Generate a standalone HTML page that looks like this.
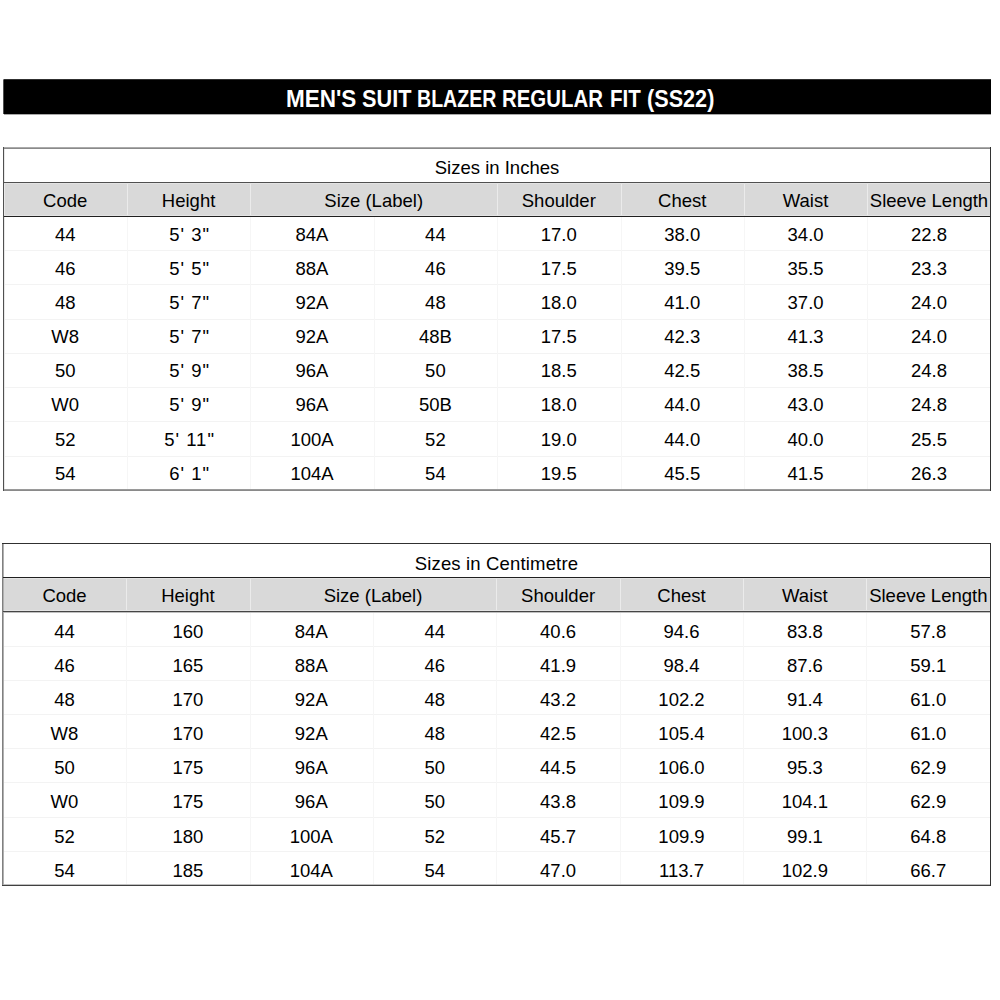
<!DOCTYPE html>
<html><head><meta charset="utf-8"><style>
html,body{margin:0;padding:0;background:#fff;width:1000px;height:1000px;overflow:hidden}
body>div{position:absolute}
.t{font-family:"Liberation Sans",sans-serif;font-size:18.5px;line-height:18px;height:18px;text-align:center;color:#000;white-space:nowrap}
.title{top:82px;transform-origin:0 0;height:35px;line-height:35px;color:#fff;font-family:"Liberation Sans",sans-serif;font-weight:bold;font-size:23.5px;white-space:nowrap}
</style></head><body>
<div style="left:3px;top:183px;width:987px;height:33px;background:#d9d9d9"></div>
<div style="left:127px;top:183px;width:1px;height:33px;background:#ebebeb"></div>
<div style="left:250px;top:183px;width:1px;height:33px;background:#ebebeb"></div>
<div style="left:497px;top:183px;width:1px;height:33px;background:#ebebeb"></div>
<div style="left:621px;top:183px;width:1px;height:33px;background:#ebebeb"></div>
<div style="left:744px;top:183px;width:1px;height:33px;background:#ebebeb"></div>
<div style="left:867px;top:183px;width:1px;height:33px;background:#ebebeb"></div>
<div style="left:3px;top:250px;width:987px;height:1px;background:#f3f3f3"></div>
<div style="left:3px;top:284px;width:987px;height:1px;background:#f3f3f3"></div>
<div style="left:3px;top:319px;width:987px;height:1px;background:#f3f3f3"></div>
<div style="left:3px;top:353px;width:987px;height:1px;background:#f3f3f3"></div>
<div style="left:3px;top:387px;width:987px;height:1px;background:#f3f3f3"></div>
<div style="left:3px;top:421px;width:987px;height:1px;background:#f3f3f3"></div>
<div style="left:3px;top:456px;width:987px;height:1px;background:#f3f3f3"></div>
<div style="left:127px;top:217px;width:1px;height:273px;background:#f6f6f6"></div>
<div style="left:250px;top:217px;width:1px;height:273px;background:#f6f6f6"></div>
<div style="left:374px;top:217px;width:1px;height:273px;background:#f6f6f6"></div>
<div style="left:497px;top:217px;width:1px;height:273px;background:#f6f6f6"></div>
<div style="left:621px;top:217px;width:1px;height:273px;background:#f6f6f6"></div>
<div style="left:744px;top:217px;width:1px;height:273px;background:#f6f6f6"></div>
<div style="left:867px;top:217px;width:1px;height:273px;background:#f6f6f6"></div>
<div style="left:4px;top:147px;width:1px;height:344px;background:#e8e8e8"></div>
<div style="left:4px;top:215px;width:986px;height:1px;background:#e4e4e4"></div>
<div style="left:4px;top:183px;width:986px;height:1px;background:#e3e3e3"></div>
<div style="left:3px;top:147px;width:988px;height:1px;background:#aaaaaa"></div>
<div style="left:3px;top:489px;width:988px;height:1px;background:#9a9a9a"></div>
<div style="left:3px;top:148px;width:988px;height:1px;background:#8a8a8a"></div>
<div style="left:3px;top:490px;width:988px;height:1px;background:#8a8a8a"></div>
<div style="left:3px;top:147px;width:1px;height:344px;background:#505050"></div>
<div style="left:4px;top:182px;width:986px;height:1px;background:#505050"></div>
<div style="left:990px;top:147px;width:1px;height:344px;background:#333333"></div>
<div style="left:4px;top:216px;width:986px;height:1px;background:#202020"></div>
<div class="t" style="left:3.50px;top:158.96px;width:987.00px;">Sizes in Inches</div>
<div class="t" style="left:3.50px;top:191.56px;width:123.40px;">Code</div>
<div class="t" style="left:126.90px;top:191.56px;width:123.40px;">Height</div>
<div class="t" style="left:497.10px;top:191.56px;width:123.40px;">Shoulder</div>
<div class="t" style="left:620.50px;top:191.56px;width:123.40px;">Chest</div>
<div class="t" style="left:743.90px;top:191.56px;width:123.40px;">Waist</div>
<div class="t" style="left:867.30px;top:191.56px;width:123.40px;">Sleeve Length</div>
<div class="t" style="left:250.30px;top:191.56px;width:246.80px;">Size (Label)</div>
<div class="t" style="left:3.50px;top:225.76px;width:123.40px;font-size:18.5px;">44</div>
<div class="t" style="left:126.90px;top:225.76px;width:123.40px;letter-spacing:1px;padding-left:1px;font-size:18.5px;">5&#39; 3&quot;</div>
<div class="t" style="left:250.30px;top:225.76px;width:123.40px;font-size:18.5px;">84A</div>
<div class="t" style="left:373.70px;top:225.76px;width:123.40px;font-size:18.5px;">44</div>
<div class="t" style="left:497.10px;top:225.76px;width:123.40px;font-size:18.5px;">17.0</div>
<div class="t" style="left:620.50px;top:225.76px;width:123.40px;font-size:18.5px;">38.0</div>
<div class="t" style="left:743.90px;top:225.76px;width:123.40px;font-size:18.5px;">34.0</div>
<div class="t" style="left:867.30px;top:225.76px;width:123.40px;font-size:18.5px;">22.8</div>
<div class="t" style="left:3.50px;top:259.90px;width:123.40px;font-size:18.5px;">46</div>
<div class="t" style="left:126.90px;top:259.90px;width:123.40px;letter-spacing:1px;padding-left:1px;font-size:18.5px;">5&#39; 5&quot;</div>
<div class="t" style="left:250.30px;top:259.90px;width:123.40px;font-size:18.5px;">88A</div>
<div class="t" style="left:373.70px;top:259.90px;width:123.40px;font-size:18.5px;">46</div>
<div class="t" style="left:497.10px;top:259.90px;width:123.40px;font-size:18.5px;">17.5</div>
<div class="t" style="left:620.50px;top:259.90px;width:123.40px;font-size:18.5px;">39.5</div>
<div class="t" style="left:743.90px;top:259.90px;width:123.40px;font-size:18.5px;">35.5</div>
<div class="t" style="left:867.30px;top:259.90px;width:123.40px;font-size:18.5px;">23.3</div>
<div class="t" style="left:3.50px;top:294.04px;width:123.40px;font-size:18.5px;">48</div>
<div class="t" style="left:126.90px;top:294.04px;width:123.40px;letter-spacing:1px;padding-left:1px;font-size:18.5px;">5&#39; 7&quot;</div>
<div class="t" style="left:250.30px;top:294.04px;width:123.40px;font-size:18.5px;">92A</div>
<div class="t" style="left:373.70px;top:294.04px;width:123.40px;font-size:18.5px;">48</div>
<div class="t" style="left:497.10px;top:294.04px;width:123.40px;font-size:18.5px;">18.0</div>
<div class="t" style="left:620.50px;top:294.04px;width:123.40px;font-size:18.5px;">41.0</div>
<div class="t" style="left:743.90px;top:294.04px;width:123.40px;font-size:18.5px;">37.0</div>
<div class="t" style="left:867.30px;top:294.04px;width:123.40px;font-size:18.5px;">24.0</div>
<div class="t" style="left:3.50px;top:328.18px;width:123.40px;font-size:18.5px;">W8</div>
<div class="t" style="left:126.90px;top:328.18px;width:123.40px;letter-spacing:1px;padding-left:1px;font-size:18.5px;">5&#39; 7&quot;</div>
<div class="t" style="left:250.30px;top:328.18px;width:123.40px;font-size:18.5px;">92A</div>
<div class="t" style="left:373.70px;top:328.18px;width:123.40px;font-size:18.5px;">48B</div>
<div class="t" style="left:497.10px;top:328.18px;width:123.40px;font-size:18.5px;">17.5</div>
<div class="t" style="left:620.50px;top:328.18px;width:123.40px;font-size:18.5px;">42.3</div>
<div class="t" style="left:743.90px;top:328.18px;width:123.40px;font-size:18.5px;">41.3</div>
<div class="t" style="left:867.30px;top:328.18px;width:123.40px;font-size:18.5px;">24.0</div>
<div class="t" style="left:3.50px;top:362.32px;width:123.40px;font-size:18.5px;">50</div>
<div class="t" style="left:126.90px;top:362.32px;width:123.40px;letter-spacing:1px;padding-left:1px;font-size:18.5px;">5&#39; 9&quot;</div>
<div class="t" style="left:250.30px;top:362.32px;width:123.40px;font-size:18.5px;">96A</div>
<div class="t" style="left:373.70px;top:362.32px;width:123.40px;font-size:18.5px;">50</div>
<div class="t" style="left:497.10px;top:362.32px;width:123.40px;font-size:18.5px;">18.5</div>
<div class="t" style="left:620.50px;top:362.32px;width:123.40px;font-size:18.5px;">42.5</div>
<div class="t" style="left:743.90px;top:362.32px;width:123.40px;font-size:18.5px;">38.5</div>
<div class="t" style="left:867.30px;top:362.32px;width:123.40px;font-size:18.5px;">24.8</div>
<div class="t" style="left:3.50px;top:396.46px;width:123.40px;font-size:18.5px;">W0</div>
<div class="t" style="left:126.90px;top:396.46px;width:123.40px;letter-spacing:1px;padding-left:1px;font-size:18.5px;">5&#39; 9&quot;</div>
<div class="t" style="left:250.30px;top:396.46px;width:123.40px;font-size:18.5px;">96A</div>
<div class="t" style="left:373.70px;top:396.46px;width:123.40px;font-size:18.5px;">50B</div>
<div class="t" style="left:497.10px;top:396.46px;width:123.40px;font-size:18.5px;">18.0</div>
<div class="t" style="left:620.50px;top:396.46px;width:123.40px;font-size:18.5px;">44.0</div>
<div class="t" style="left:743.90px;top:396.46px;width:123.40px;font-size:18.5px;">43.0</div>
<div class="t" style="left:867.30px;top:396.46px;width:123.40px;font-size:18.5px;">24.8</div>
<div class="t" style="left:3.50px;top:430.60px;width:123.40px;font-size:18.5px;">52</div>
<div class="t" style="left:126.90px;top:430.60px;width:123.40px;letter-spacing:1px;padding-left:1px;font-size:18.5px;">5&#39; 11&quot;</div>
<div class="t" style="left:250.30px;top:430.60px;width:123.40px;font-size:18.5px;">100A</div>
<div class="t" style="left:373.70px;top:430.60px;width:123.40px;font-size:18.5px;">52</div>
<div class="t" style="left:497.10px;top:430.60px;width:123.40px;font-size:18.5px;">19.0</div>
<div class="t" style="left:620.50px;top:430.60px;width:123.40px;font-size:18.5px;">44.0</div>
<div class="t" style="left:743.90px;top:430.60px;width:123.40px;font-size:18.5px;">40.0</div>
<div class="t" style="left:867.30px;top:430.60px;width:123.40px;font-size:18.5px;">25.5</div>
<div class="t" style="left:3.50px;top:464.74px;width:123.40px;font-size:18.5px;">54</div>
<div class="t" style="left:126.90px;top:464.74px;width:123.40px;letter-spacing:1px;padding-left:1px;font-size:18.5px;">6&#39; 1&quot;</div>
<div class="t" style="left:250.30px;top:464.74px;width:123.40px;font-size:18.5px;">104A</div>
<div class="t" style="left:373.70px;top:464.74px;width:123.40px;font-size:18.5px;">54</div>
<div class="t" style="left:497.10px;top:464.74px;width:123.40px;font-size:18.5px;">19.5</div>
<div class="t" style="left:620.50px;top:464.74px;width:123.40px;font-size:18.5px;">45.5</div>
<div class="t" style="left:743.90px;top:464.74px;width:123.40px;font-size:18.5px;">41.5</div>
<div class="t" style="left:867.30px;top:464.74px;width:123.40px;font-size:18.5px;">26.3</div>
<div style="left:2px;top:578px;width:988px;height:33px;background:#d9d9d9"></div>
<div style="left:126px;top:578px;width:1px;height:33px;background:#ebebeb"></div>
<div style="left:250px;top:578px;width:1px;height:33px;background:#ebebeb"></div>
<div style="left:496px;top:578px;width:1px;height:33px;background:#ebebeb"></div>
<div style="left:620px;top:578px;width:1px;height:33px;background:#ebebeb"></div>
<div style="left:743px;top:578px;width:1px;height:33px;background:#ebebeb"></div>
<div style="left:866px;top:578px;width:1px;height:33px;background:#ebebeb"></div>
<div style="left:2px;top:646px;width:988px;height:1px;background:#f3f3f3"></div>
<div style="left:2px;top:680px;width:988px;height:1px;background:#f3f3f3"></div>
<div style="left:2px;top:714px;width:988px;height:1px;background:#f3f3f3"></div>
<div style="left:2px;top:748px;width:988px;height:1px;background:#f3f3f3"></div>
<div style="left:2px;top:782px;width:988px;height:1px;background:#f3f3f3"></div>
<div style="left:2px;top:817px;width:988px;height:1px;background:#f3f3f3"></div>
<div style="left:2px;top:851px;width:988px;height:1px;background:#f3f3f3"></div>
<div style="left:126px;top:612px;width:1px;height:273px;background:#f6f6f6"></div>
<div style="left:250px;top:612px;width:1px;height:273px;background:#f6f6f6"></div>
<div style="left:373px;top:612px;width:1px;height:273px;background:#f6f6f6"></div>
<div style="left:496px;top:612px;width:1px;height:273px;background:#f6f6f6"></div>
<div style="left:620px;top:612px;width:1px;height:273px;background:#f6f6f6"></div>
<div style="left:743px;top:612px;width:1px;height:273px;background:#f6f6f6"></div>
<div style="left:866px;top:612px;width:1px;height:273px;background:#f6f6f6"></div>
<div style="left:3px;top:578px;width:987px;height:1px;background:#e4e4e4"></div>
<div style="left:3px;top:610px;width:987px;height:1px;background:#e4e4e4"></div>
<div style="left:2px;top:884px;width:989px;height:1px;background:#c0c0c0"></div>
<div style="left:3px;top:612px;width:987px;height:1px;background:#c0c0c0"></div>
<div style="left:3px;top:543px;width:1px;height:343px;background:#b0b0b0"></div>
<div style="left:2px;top:543px;width:1px;height:343px;background:#808080"></div>
<div style="left:3px;top:611px;width:987px;height:1px;background:#454545"></div>
<div style="left:2px;top:885px;width:989px;height:1px;background:#404040"></div>
<div style="left:990px;top:543px;width:1px;height:343px;background:#333333"></div>
<div style="left:2px;top:543px;width:989px;height:1px;background:#303030"></div>
<div style="left:3px;top:577px;width:987px;height:1px;background:#202020"></div>
<div class="t" style="left:2.80px;top:554.96px;width:987.00px;letter-spacing:0.16px;padding-left:0.16px;">Sizes in Centimetre</div>
<div class="t" style="left:2.80px;top:586.96px;width:123.40px;">Code</div>
<div class="t" style="left:126.20px;top:586.96px;width:123.40px;">Height</div>
<div class="t" style="left:496.40px;top:586.96px;width:123.40px;">Shoulder</div>
<div class="t" style="left:619.80px;top:586.96px;width:123.40px;">Chest</div>
<div class="t" style="left:743.20px;top:586.96px;width:123.40px;">Waist</div>
<div class="t" style="left:866.60px;top:586.96px;width:123.40px;">Sleeve Length</div>
<div class="t" style="left:249.60px;top:586.96px;width:246.80px;">Size (Label)</div>
<div class="t" style="left:2.80px;top:622.76px;width:123.40px;font-size:18.5px;">44</div>
<div class="t" style="left:126.20px;top:622.76px;width:123.40px;font-size:18.5px;">160</div>
<div class="t" style="left:249.60px;top:622.76px;width:123.40px;font-size:18.5px;">84A</div>
<div class="t" style="left:373.00px;top:622.76px;width:123.40px;font-size:18.5px;">44</div>
<div class="t" style="left:496.40px;top:622.76px;width:123.40px;font-size:18.5px;">40.6</div>
<div class="t" style="left:619.80px;top:622.76px;width:123.40px;font-size:18.5px;">94.6</div>
<div class="t" style="left:743.20px;top:622.76px;width:123.40px;font-size:18.5px;">83.8</div>
<div class="t" style="left:866.60px;top:622.76px;width:123.40px;font-size:18.5px;">57.8</div>
<div class="t" style="left:2.80px;top:656.90px;width:123.40px;font-size:18.5px;">46</div>
<div class="t" style="left:126.20px;top:656.90px;width:123.40px;font-size:18.5px;">165</div>
<div class="t" style="left:249.60px;top:656.90px;width:123.40px;font-size:18.5px;">88A</div>
<div class="t" style="left:373.00px;top:656.90px;width:123.40px;font-size:18.5px;">46</div>
<div class="t" style="left:496.40px;top:656.90px;width:123.40px;font-size:18.5px;">41.9</div>
<div class="t" style="left:619.80px;top:656.90px;width:123.40px;font-size:18.5px;">98.4</div>
<div class="t" style="left:743.20px;top:656.90px;width:123.40px;font-size:18.5px;">87.6</div>
<div class="t" style="left:866.60px;top:656.90px;width:123.40px;font-size:18.5px;">59.1</div>
<div class="t" style="left:2.80px;top:691.04px;width:123.40px;font-size:18.5px;">48</div>
<div class="t" style="left:126.20px;top:691.04px;width:123.40px;font-size:18.5px;">170</div>
<div class="t" style="left:249.60px;top:691.04px;width:123.40px;font-size:18.5px;">92A</div>
<div class="t" style="left:373.00px;top:691.04px;width:123.40px;font-size:18.5px;">48</div>
<div class="t" style="left:496.40px;top:691.04px;width:123.40px;font-size:18.5px;">43.2</div>
<div class="t" style="left:619.80px;top:691.04px;width:123.40px;font-size:18.5px;">102.2</div>
<div class="t" style="left:743.20px;top:691.04px;width:123.40px;font-size:18.5px;">91.4</div>
<div class="t" style="left:866.60px;top:691.04px;width:123.40px;font-size:18.5px;">61.0</div>
<div class="t" style="left:2.80px;top:725.18px;width:123.40px;font-size:18.5px;">W8</div>
<div class="t" style="left:126.20px;top:725.18px;width:123.40px;font-size:18.5px;">170</div>
<div class="t" style="left:249.60px;top:725.18px;width:123.40px;font-size:18.5px;">92A</div>
<div class="t" style="left:373.00px;top:725.18px;width:123.40px;font-size:18.5px;">48</div>
<div class="t" style="left:496.40px;top:725.18px;width:123.40px;font-size:18.5px;">42.5</div>
<div class="t" style="left:619.80px;top:725.18px;width:123.40px;font-size:18.5px;">105.4</div>
<div class="t" style="left:743.20px;top:725.18px;width:123.40px;font-size:18.5px;">100.3</div>
<div class="t" style="left:866.60px;top:725.18px;width:123.40px;font-size:18.5px;">61.0</div>
<div class="t" style="left:2.80px;top:759.32px;width:123.40px;font-size:18.5px;">50</div>
<div class="t" style="left:126.20px;top:759.32px;width:123.40px;font-size:18.5px;">175</div>
<div class="t" style="left:249.60px;top:759.32px;width:123.40px;font-size:18.5px;">96A</div>
<div class="t" style="left:373.00px;top:759.32px;width:123.40px;font-size:18.5px;">50</div>
<div class="t" style="left:496.40px;top:759.32px;width:123.40px;font-size:18.5px;">44.5</div>
<div class="t" style="left:619.80px;top:759.32px;width:123.40px;font-size:18.5px;">106.0</div>
<div class="t" style="left:743.20px;top:759.32px;width:123.40px;font-size:18.5px;">95.3</div>
<div class="t" style="left:866.60px;top:759.32px;width:123.40px;font-size:18.5px;">62.9</div>
<div class="t" style="left:2.80px;top:793.46px;width:123.40px;font-size:18.5px;">W0</div>
<div class="t" style="left:126.20px;top:793.46px;width:123.40px;font-size:18.5px;">175</div>
<div class="t" style="left:249.60px;top:793.46px;width:123.40px;font-size:18.5px;">96A</div>
<div class="t" style="left:373.00px;top:793.46px;width:123.40px;font-size:18.5px;">50</div>
<div class="t" style="left:496.40px;top:793.46px;width:123.40px;font-size:18.5px;">43.8</div>
<div class="t" style="left:619.80px;top:793.46px;width:123.40px;font-size:18.5px;">109.9</div>
<div class="t" style="left:743.20px;top:793.46px;width:123.40px;font-size:18.5px;">104.1</div>
<div class="t" style="left:866.60px;top:793.46px;width:123.40px;font-size:18.5px;">62.9</div>
<div class="t" style="left:2.80px;top:827.60px;width:123.40px;font-size:18.5px;">52</div>
<div class="t" style="left:126.20px;top:827.60px;width:123.40px;font-size:18.5px;">180</div>
<div class="t" style="left:249.60px;top:827.60px;width:123.40px;font-size:18.5px;">100A</div>
<div class="t" style="left:373.00px;top:827.60px;width:123.40px;font-size:18.5px;">52</div>
<div class="t" style="left:496.40px;top:827.60px;width:123.40px;font-size:18.5px;">45.7</div>
<div class="t" style="left:619.80px;top:827.60px;width:123.40px;font-size:18.5px;">109.9</div>
<div class="t" style="left:743.20px;top:827.60px;width:123.40px;font-size:18.5px;">99.1</div>
<div class="t" style="left:866.60px;top:827.60px;width:123.40px;font-size:18.5px;">64.8</div>
<div class="t" style="left:2.80px;top:861.74px;width:123.40px;font-size:18.5px;">54</div>
<div class="t" style="left:126.20px;top:861.74px;width:123.40px;font-size:18.5px;">185</div>
<div class="t" style="left:249.60px;top:861.74px;width:123.40px;font-size:18.5px;">104A</div>
<div class="t" style="left:373.00px;top:861.74px;width:123.40px;font-size:18.5px;">54</div>
<div class="t" style="left:496.40px;top:861.74px;width:123.40px;font-size:18.5px;">47.0</div>
<div class="t" style="left:619.80px;top:861.74px;width:123.40px;font-size:18.5px;">113.7</div>
<div class="t" style="left:743.20px;top:861.74px;width:123.40px;font-size:18.5px;">102.9</div>
<div class="t" style="left:866.60px;top:861.74px;width:123.40px;font-size:18.5px;">66.7</div>
<div style="left:4px;top:80px;width:987px;height:34px;background:#000"></div>
<div style="left:3px;top:80px;width:1px;height:34px;background:#505050"></div>
<div style="left:4px;top:79px;width:987px;height:1px;background:#303030"></div>
<div style="left:3px;top:79px;width:1px;height:1px;background:#909090"></div>
<div style="left:4px;top:114px;width:987px;height:1px;background:#a8a8a8"></div>
<div class="title" style="left:286.48px;transform:scaleX(0.9577)">MEN&#39;S</div>
<div class="title" style="left:362.08px;transform:scaleX(0.9231)">SUIT</div>
<div class="title" style="left:417.33px;transform:scaleX(0.8333)">BLAZER</div>
<div class="title" style="left:502.46px;transform:scaleX(0.8684)">REGULAR</div>
<div class="title" style="left:609.65px;transform:scaleX(0.8727)">FIT</div>
<div class="title" style="left:647.08px;transform:scaleX(0.9211)">(SS22)</div>
</body></html>
